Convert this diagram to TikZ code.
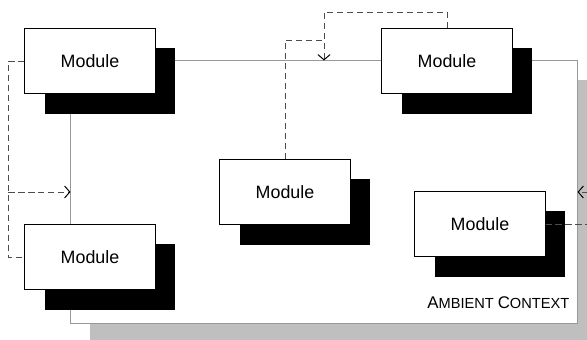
\documentclass[tikz,border=0pt]{standalone}
\usepackage{fontspec}
\setmainfont{Liberation Sans}
\usetikzlibrary{positioning,arrows.meta,shadows,calc}

\begin{document}
\begin{tikzpicture}[>={Straight Barb[length=0.13cm,width=0.3cm,color=black]},
			x=0.025cm, y=-0.025cm,
			module/.style={
				draw,
				fill=white,
				line width=0.7pt,
				minimum width=3.25cm,
				minimum height=1.625cm,
				font=\fontsize{12.7}{15}\selectfont,
				drop shadow={shadow xshift=0.5cm, shadow yshift=-0.5cm, fill=black, opacity=1}
			},
			link/.style={draw=black!70, line width=0.7pt, dash pattern=on 4.3pt off 2.8pt}]
			
			\clip (0,0) rectangle (587,340);
			
			\node (ctx)[draw=black!40, fill=white, line width=0.7pt,
				minimum width=12.65cm, minimum height=6.55cm,
				drop shadow={shadow xshift=0.475cm, shadow yshift=-0.475cm, fill=black!25, opacity=1}] at (324,192) {};
			
			\node (ctxlabel)[anchor=base east, inner sep=0, xshift=-0.2cm, yshift=0.375cm] at (ctx.south east)
				{{\fontsize{12}{14}\selectfont A}{\fontsize{10.4}{12}\selectfont MBIENT} {\fontsize{12}{14}\selectfont C}{\fontsize{10.4}{12}\selectfont ONTEXT}};
			
			\node (m1)[module] at (90,61) {Module};
			
			\node (m2)[module] at (447,61) {Module};
			
			\node (m3)[module] at (90,257) {Module};
			
			\node (m4)[module] at (285,192) {Module};
			
			\node (m5)[module] at (480,224) {Module};
			
			\draw[link](m1.west)-- ++(-16,0) coordinate (lj) |- (m3.west);
			
			\draw[link,->](lj |- ctx.west)--(ctx.west);
			
			\draw[link,->](m2.north)-- ++(0,-16) -| (ctx.north);
			
			\draw[link](m4.north) |- ($(ctx.north)+(0,-20)$);
			
			\draw[link,->](m5.east)-- ++(50,0) |- (ctx.east);
			
		\end{tikzpicture}
\end{document}
